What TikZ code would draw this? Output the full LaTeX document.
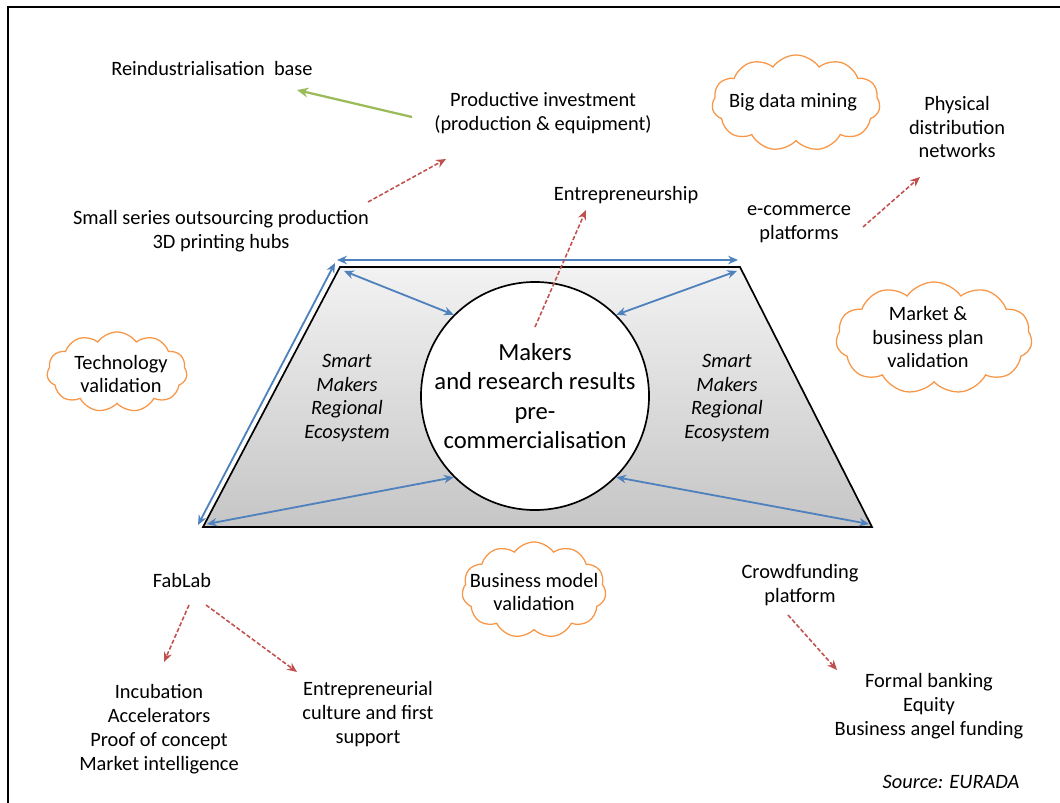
\documentclass[tikz,border=0pt]{standalone}
\usepackage{fontspec}
\setmainfont{Carlito}
\usetikzlibrary{arrows.meta, shapes.symbols}
\definecolor{linkblue}{RGB}{79,129,189}
\definecolor{flowred}{RGB}{192,80,77}
\definecolor{leafgreen}{RGB}{155,187,89}
\definecolor{puffOrange}{RGB}{247,150,70}
\tikzset{
  label text/.style={
    align=center,
    inner sep=0pt,
    font=\fontsize{14.5}{17}\selectfont
  },
  eco text/.style={
    align=center,
    inner sep=0pt,
    font=\fontsize{14.5}{17}\selectfont\itshape
  },
  core/.style={
    circle,
    draw=black,
    fill=white,
    line width=1.2pt,
    align=center,
    inner sep=0pt,
    font=\fontsize{17.5}{21}\selectfont
  },
  bluelink/.style={
    {Stealth[length=7pt,width=6pt]}-{Stealth[length=7pt,width=6pt]},
    line width=1.3pt,
    color=linkblue
  },
  redflow/.style={
    -{Stealth[length=7pt,width=6pt]},
    line width=1.1pt,
    color=flowred,
    dash pattern=on 3pt off 1.5pt
  },
  greenflow/.style={
    -{Stealth[length=8pt,width=7pt]},
    line width=1.6pt,
    color=leafgreen
  },
  ideacloud/.style={
    cloud,
    cloud puffs=11,
    cloud puff arc=110,
    cloud ignores aspect,
    draw=puffOrange,
    line width=0.9pt,
    inner sep=0pt
  }
}
\begin{document}
\begin{tikzpicture}[x=0.025cm, y=-0.025cm]
  \useasboundingbox (0,0) rectangle (1060,803);
  \draw[line width=1.2pt] (8,803) -- (8,7) -- (1060,7);

  % ecosystem trapezoid
  \coordinate (tl) at (340,267);
  \coordinate (tr) at (740,267);
  \coordinate (br) at (872,527);
  \coordinate (bl) at (203,527);
  \shade[top color=gray!10, bottom color=gray!45] (tl) -- (tr) -- (br) -- (bl) -- cycle;
  \draw[line width=1.2pt] (tl) -- (tr) -- (br) -- (bl) -- cycle;

  \node[core, minimum size=5.7cm] (center) at (535,396)
    {Makers\\and research results\\pre-\\commercialisation};
  \node[eco text] (ecoleft) at (347,398) {Smart\\Makers\\Regional\\Ecosystem};
  \node[eco text] (ecoright) at (727,398) {Smart\\Makers\\Regional\\Ecosystem};

  % blue links round the centre
  \coordinate (topA) at (337,260);
  \coordinate (topB) at (738,260);
  \coordinate (sideA) at (198,525);
  \coordinate (sideB) at (335,263);
  \coordinate (cTL) at (344,271);
  \coordinate (cTR) at (737,271);
  \coordinate (cBL) at (207,524);
  \coordinate (cBR) at (869,524);
  \draw[bluelink] (topA) -- (topB);
  \draw[bluelink] (sideA) -- (sideB);
  \draw[bluelink] (cTL) -- (center.135);
  \draw[bluelink] (cTR) -- (center.45);
  \draw[bluelink] (cBL) -- (center.-135);
  \draw[bluelink] (cBR) -- (center.-45);

  % labels
  \node[label text] (reind) at (212,68) {Reindustrialisation~~base};
  \node[label text] (invest) at (543,113) {Productive investment\\(production \& equipment)};
  \node[label text] (phys) at (957,127) {Physical\\distribution\\networks};
  \node[label text] (entre) at (626,195) {Entrepreneurship};
  \node[label text] (ecom) at (799,224) {e-commerce\\platforms};
  \node[label text] (small) at (221,231) {Small series outsourcing production\\3D printing hubs};
  \node[label text] (fablab) at (182,580) {FabLab};
  \node[label text] (incub) at (159,729) {Incubation\\Accelerators\\Proof of concept\\Market intelligence};
  \node[label text] (culture) at (368,714) {Entrepreneurial\\culture and first\\support};
  \node[label text] (crowd) at (800,585) {Crowdfunding\\platform};
  \node[label text] (bank) at (929,706) {Formal banking\\Equity\\Business angel funding};
  \node[eco text] (source) at (951,782) {Source: EURADA};

  % clouds
  \node[ideacloud, minimum width=4.2cm, minimum height=2.4cm] (bigcloud) at (796,103) {};
  \node[label text] (bigdata) at (793,102) {Big data mining};
  \node[ideacloud, minimum width=3.5cm, minimum height=2.0cm] (techcloud) at (117,372) {};
  \node[label text] (tech) at (121,374) {Technology\\validation};
  \node[ideacloud, minimum width=4.9cm, minimum height=2.8cm] (marketcloud) at (934,338) {};
  \node[label text] (market) at (928,337) {Market \&\\business plan\\validation};
  \node[ideacloud, minimum width=3.6cm, minimum height=2.4cm] (modelcloud) at (534,590) {};
  \node[label text] (model) at (534,592) {Business model\\validation};

  % flows
  \coordinate (smallOut) at (368,202);
  \coordinate (investIn) at (446,159);
  \coordinate (coreOut) at (535,327);
  \coordinate (entreIn) at (586,210);
  \coordinate (ecomOut) at (863,227);
  \coordinate (physIn) at (920,177);
  \coordinate (fabOutA) at (189,605);
  \coordinate (incubIn) at (164,662);
  \coordinate (fabOutB) at (206,605);
  \coordinate (cultureIn) at (297,672);
  \coordinate (crowdOut) at (788,615);
  \coordinate (bankIn) at (837,670);
  \coordinate (investOut) at (412,117);
  \coordinate (reindIn) at (297,90);
  \draw[greenflow] (investOut) -- (reindIn);
  \draw[redflow] (smallOut) -- (investIn);
  \draw[redflow] (coreOut) -- (entreIn);
  \draw[redflow] (ecomOut) -- (physIn);
  \draw[redflow] (fabOutA) -- (incubIn);
  \draw[redflow] (fabOutB) -- (cultureIn);
  \draw[redflow] (crowdOut) -- (bankIn);
\end{tikzpicture}
\end{document}
